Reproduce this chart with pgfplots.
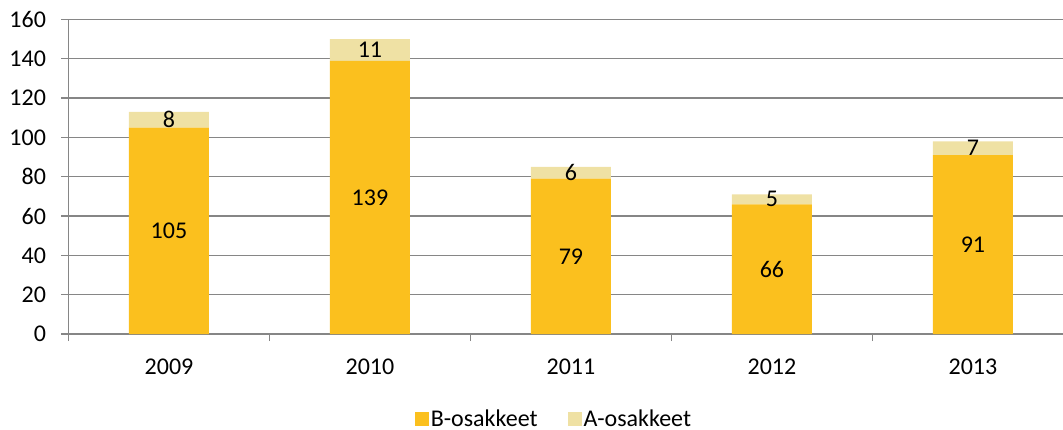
\documentclass[border=0pt]{standalone}
\usepackage{pgfplots}
\pgfplotsset{compat=1.18}
\usepackage{pgfplotstable}
\usepackage{fontspec}
\setmainfont{Carlito}
\definecolor{bcol}{RGB}{251,192,30}
\definecolor{acol}{RGB}{239,225,164}
\definecolor{gridc}{RGB}{134,134,134}

\pgfplotstableread{
x b a
0 105 8
1 139 11
2 79 6
3 66 5
4 91 7
}\data

\begin{document}
\begin{tikzpicture}
\begin{axis}[
  name=ax,
  scale only axis, width=994.5pt, height=314.5pt,
  ybar stacked, bar width=80pt,
  xmin=-0.5, xmax=4.448, ymin=0, ymax=160,
  enlargelimits=false,
  ytick={0,20,...,160},
  xtick={-0.5,0.5,1.5,2.5,3.5}, xticklabels={},
  extra x ticks={0,1,2,3,4},
  extra x tick labels={2009,2010,2011,2012,2013},
  extra x tick style={major tick length=0pt, grid=none},
  axis x line*=bottom, axis y line*=left,
  axis line style={-, gridc, line width=1.3pt},
  ymajorgrids, major grid style={gridc, line width=1.3pt},
  tick align=outside, major tick length=7pt,
  tick style={gridc, line width=1.3pt},
  tick label style={font=\fontsize{24}{28}\selectfont, text=black},
  xticklabel style={yshift=-21pt},
  yticklabel style={xshift=-12pt},
  /pgf/number format/assume math mode=true,
  nodes near coords style={font=\fontsize{24}{28}\selectfont, text=black, anchor=center},
  legend style={draw=none, fill=none, legend columns=2,
    at={(0.345,-0.27)}, anchor=west,
    font=\fontsize{24}{28}\selectfont,
    /tikz/every even column/.append style={column sep=28pt}},
  legend image code/.code={\fill[#1] (0pt,-7pt) rectangle (14pt,7pt);},
]
\addplot[fill=bcol, draw=none, point meta=\thisrow{b}, nodes near coords]
  table[x=x, y=b]{\data};
\addlegendentry{B-osakkeet}
\addplot[fill=acol, draw=none, point meta=\thisrow{a}, nodes near coords]
  table[x=x, y=a]{\data};
\addlegendentry{A-osakkeet}
\end{axis}
\pgfresetboundingbox
\path ([xshift=-68.5pt,yshift=-95pt]ax.south west) rectangle ([yshift=19.5pt]ax.north east);
\end{tikzpicture}
\end{document}
